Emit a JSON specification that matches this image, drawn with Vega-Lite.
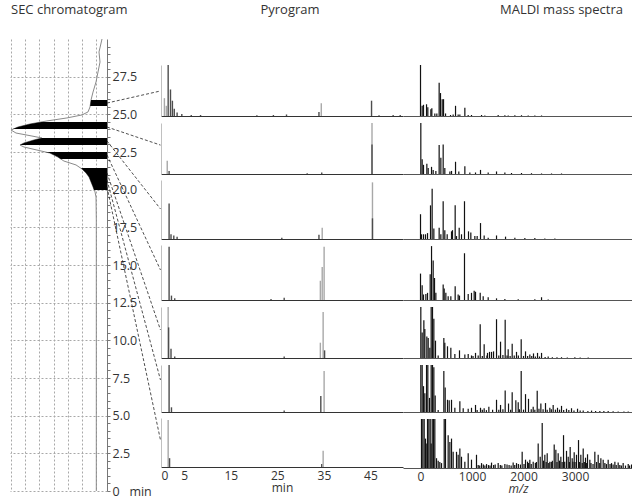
{
  "$schema": "https://vega.github.io/schema/vega-lite/v6.json",
  "padding": {"left": 8, "top": 4, "right": 0, "bottom": 0},
  "background": "white",
  "config": {
    "view": {"stroke": null},
    "font": "Open Sans",
    "axis": {"labelFont": "Open Sans", "titleFont": "Open Sans", "labelColor": "#333", "titleColor": "#333", "labelFontSize": 12, "titleFontSize": 12, "titleFontWeight": "normal"},
    "title": {"font": "Open Sans", "fontSize": 13, "fontWeight": "normal", "color": "#333"}
  },
  "datasets": {
    "sec": [
      {"t": 30.0, "v": -0.40}, {"t": 29.14, "v": -0.19}, {"t": 28.47, "v": -0.26}, {"t": 27.81, "v": -0.12}, {"t": 27.15, "v": 0.02}, {"t": 26.48, "v": 0.23}, {"t": 25.95, "v": 0.37}, {"t": 25.49, "v": 0.44}, {"t": 25.16, "v": 0.58}, {"t": 24.96, "v": 1.00}, {"t": 24.76, "v": 2.06}, {"t": 24.56, "v": 3.46}, {"t": 24.36, "v": 4.65}, {"t": 24.16, "v": 5.49}, {"t": 23.96, "v": 5.98}, {"t": 23.76, "v": 5.63}, {"t": 23.56, "v": 4.51}, {"t": 23.43, "v": 3.81}, {"t": 23.30, "v": 4.37}, {"t": 23.10, "v": 5.07}, {"t": 22.96, "v": 5.35}, {"t": 22.83, "v": 5.07}, {"t": 22.63, "v": 4.16}, {"t": 22.43, "v": 3.25}, {"t": 22.16, "v": 2.69}, {"t": 21.90, "v": 2.27}, {"t": 21.64, "v": 1.42}, {"t": 21.37, "v": 1.00}, {"t": 21.11, "v": 0.72}, {"t": 20.84, "v": 0.51}, {"t": 20.51, "v": 0.37}, {"t": 20.18, "v": 0.23}, {"t": 19.85, "v": 0.09}, {"t": 19.51, "v": 0.02}, {"t": 18.0, "v": 0.0}, {"t": 15.0, "v": 0.0}, {"t": 10.0, "v": 0.0}, {"t": 5.0, "v": 0.0}, {"t": 0.0, "v": 0.0}
    ],
    "fractions": [
      {"band": 1, "t": 25.95, "v": 0.37}, {"band": 1, "t": 25.75, "v": 0.40}, {"band": 1, "t": 25.55, "v": 0.43},
      {"band": 2, "t": 24.49, "v": 3.85}, {"band": 2, "t": 24.36, "v": 4.65}, {"band": 2, "t": 24.16, "v": 5.49}, {"band": 2, "t": 24.02, "v": 5.85},
      {"band": 3, "t": 23.43, "v": 3.81}, {"band": 3, "t": 23.30, "v": 4.37}, {"band": 3, "t": 23.10, "v": 5.07}, {"band": 3, "t": 22.96, "v": 5.35},
      {"band": 4, "t": 22.50, "v": 3.55}, {"band": 4, "t": 22.43, "v": 3.25}, {"band": 4, "t": 22.30, "v": 2.97}, {"band": 4, "t": 22.16, "v": 2.69}, {"band": 4, "t": 22.04, "v": 2.50},
      {"band": 5, "t": 21.43, "v": 1.07}, {"band": 5, "t": 21.37, "v": 1.00}, {"band": 5, "t": 21.11, "v": 0.72}, {"band": 5, "t": 20.84, "v": 0.51}, {"band": 5, "t": 20.51, "v": 0.37}, {"band": 5, "t": 20.18, "v": 0.23}, {"band": 5, "t": 19.98, "v": 0.16}
    ],
    "links": [
      {"fraction": 1, "t0": 25.75, "t1": 26.55},
      {"fraction": 2, "t0": 24.16, "t1": 22.96},
      {"fraction": 3, "t0": 23.23, "t1": 18.72},
      {"fraction": 4, "t0": 22.30, "t1": 14.67},
      {"fraction": 5, "t0": 21.11, "t1": 10.69},
      {"fraction": 6, "t0": 20.64, "t1": 7.37},
      {"fraction": 7, "t0": 20.18, "t1": 3.38}
    ],
    "pyro": [
      {"panel": 1, "t": 0.73, "h": 0.35, "trace": "l"}, {"panel": 1, "t": 1.14, "h": 0.2, "trace": "l"}, {"panel": 1, "t": 1.54, "h": 1.0, "trace": "d"}, {"panel": 1, "t": 2.04, "h": 0.52, "trace": "d"}, {"panel": 1, "t": 2.45, "h": 0.3, "trace": "d"}, {"panel": 1, "t": 2.85, "h": 0.14, "trace": "d"}, {"panel": 1, "t": 3.46, "h": 0.07, "trace": "d"}, {"panel": 1, "t": 4.47, "h": 0.04, "trace": "d"}, {"panel": 1, "t": 6.5, "h": 0.02, "trace": "d"}, {"panel": 1, "t": 8.5, "h": 0.02, "trace": "d"}, {"panel": 1, "t": 20.6, "h": 0.015, "trace": "d"}, {"panel": 1, "t": 24.15, "h": 0.02, "trace": "d"}, {"panel": 1, "t": 26.97, "h": 0.03, "trace": "d"}, {"panel": 1, "t": 33.94, "h": 0.08, "trace": "d"}, {"panel": 1, "t": 34.44, "h": 0.25, "trace": "l"}, {"panel": 1, "t": 45.24, "h": 0.30, "trace": "d"}, {"panel": 1, "t": 46.85, "h": 0.015, "trace": "d"}, {"panel": 1, "t": 49.88, "h": 0.02, "trace": "d"}, {"panel": 1, "t": 51.4, "h": 0.02, "trace": "d"},
      {"panel": 2, "t": 1.34, "h": 0.26, "trace": "l"}, {"panel": 2, "t": 1.74, "h": 0.06, "trace": "d"}, {"panel": 2, "t": 31.41, "h": 0.015, "trace": "d"}, {"panel": 2, "t": 34.54, "h": 0.03, "trace": "d"}, {"panel": 2, "t": 45.34, "h": 1.0, "trace": "l"}, {"panel": 2, "t": 45.34, "h": 0.58, "trace": "d"},
      {"panel": 3, "t": 1.74, "h": 0.6, "trace": "d"}, {"panel": 3, "t": 2.15, "h": 0.08, "trace": "d"}, {"panel": 3, "t": 2.75, "h": 0.06, "trace": "d"}, {"panel": 3, "t": 3.46, "h": 0.04, "trace": "d"}, {"panel": 3, "t": 25.96, "h": 0.02, "trace": "d"}, {"panel": 3, "t": 33.94, "h": 0.07, "trace": "d"}, {"panel": 3, "t": 34.64, "h": 0.19, "trace": "l"}, {"panel": 3, "t": 45.44, "h": 0.96, "trace": "l"}, {"panel": 3, "t": 45.44, "h": 0.35, "trace": "d"},
      {"panel": 4, "t": 1.74, "h": 0.97, "trace": "d"}, {"panel": 4, "t": 2.25, "h": 0.08, "trace": "d"}, {"panel": 4, "t": 2.95, "h": 0.03, "trace": "d"}, {"panel": 4, "t": 23.64, "h": 0.02, "trace": "d"}, {"panel": 4, "t": 26.47, "h": 0.04, "trace": "d"}, {"panel": 4, "t": 34.24, "h": 0.35, "trace": "l"}, {"panel": 4, "t": 34.64, "h": 0.6, "trace": "l"}, {"panel": 4, "t": 35.05, "h": 0.97, "trace": "l"},
      {"panel": 5, "t": 1.54, "h": 1.0, "trace": "l"}, {"panel": 5, "t": 1.64, "h": 0.6, "trace": "d"}, {"panel": 5, "t": 2.15, "h": 0.18, "trace": "d"}, {"panel": 5, "t": 2.95, "h": 0.03, "trace": "d"}, {"panel": 5, "t": 26.47, "h": 0.03, "trace": "d"}, {"panel": 5, "t": 34.24, "h": 0.3, "trace": "l"}, {"panel": 5, "t": 34.84, "h": 0.9, "trace": "l"}, {"panel": 5, "t": 35.15, "h": 0.15, "trace": "d"},
      {"panel": 6, "t": 1.74, "h": 1.0, "trace": "d"}, {"panel": 6, "t": 2.25, "h": 0.1, "trace": "d"}, {"panel": 6, "t": 26.47, "h": 0.03, "trace": "d"}, {"panel": 6, "t": 34.34, "h": 0.34, "trace": "d"}, {"panel": 6, "t": 35.05, "h": 0.87, "trace": "l"},
      {"panel": 7, "t": 1.54, "h": 0.96, "trace": "l"}, {"panel": 7, "t": 1.84, "h": 0.18, "trace": "d"}, {"panel": 7, "t": 34.54, "h": 0.06, "trace": "d"}, {"panel": 7, "t": 34.84, "h": 0.33, "trace": "l"}
    ],
    "maldi": [
      {"panel":1,"mz":0,"i":1.0},{"panel":1,"mz":32,"i":0.2},{"panel":1,"mz":58,"i":0.22},{"panel":1,"mz":117,"i":0.23},{"panel":1,"mz":142,"i":0.17},{"panel":1,"mz":201,"i":0.13},{"panel":1,"mz":220,"i":0.15},{"panel":1,"mz":278,"i":0.05},{"panel":1,"mz":317,"i":0.05},{"panel":1,"mz":362,"i":0.65},{"panel":1,"mz":388,"i":0.45},{"panel":1,"mz":421,"i":0.33},{"panel":1,"mz":447,"i":0.33},{"panel":1,"mz":486,"i":0.05},{"panel":1,"mz":583,"i":0.02},{"panel":1,"mz":634,"i":0.03},{"panel":1,"mz":680,"i":0.2},{"panel":1,"mz":731,"i":0.03},{"panel":1,"mz":764,"i":0.03},{"panel":1,"mz":861,"i":0.16},{"panel":1,"mz":926,"i":0.02},{"panel":1,"mz":990,"i":0.02},{"panel":1,"mz":1185,"i":0.02},{"panel":1,"mz":1249,"i":0.01},{"panel":1,"mz":1508,"i":0.02},{"panel":1,"mz":1638,"i":0.015},{"panel":1,"mz":1703,"i":0.01},{"panel":1,"mz":1832,"i":0.015},{"panel":1,"mz":1961,"i":0.015},{"panel":1,"mz":2091,"i":0.01},{"panel":1,"mz":2220,"i":0.01},{"panel":1,"mz":2350,"i":0.01},
      {"panel":2,"mz":6,"i":1.0},{"panel":2,"mz":32,"i":0.29},{"panel":2,"mz":58,"i":0.18},{"panel":2,"mz":123,"i":0.2},{"panel":2,"mz":149,"i":0.12},{"panel":2,"mz":214,"i":0.14},{"panel":2,"mz":246,"i":0.08},{"panel":2,"mz":298,"i":0.06},{"panel":2,"mz":362,"i":0.57},{"panel":2,"mz":395,"i":0.32},{"panel":2,"mz":440,"i":0.58},{"panel":2,"mz":472,"i":0.12},{"panel":2,"mz":570,"i":0.05},{"panel":2,"mz":602,"i":0.06},{"panel":2,"mz":680,"i":0.24},{"panel":2,"mz":744,"i":0.05},{"panel":2,"mz":861,"i":0.15},{"panel":2,"mz":958,"i":0.03},{"panel":2,"mz":1068,"i":0.03},{"panel":2,"mz":1165,"i":0.08},{"panel":2,"mz":1314,"i":0.03},{"panel":2,"mz":1476,"i":0.05},{"panel":2,"mz":1638,"i":0.03},{"panel":2,"mz":1767,"i":0.02},{"panel":2,"mz":1961,"i":0.02},{"panel":2,"mz":2155,"i":0.015},{"panel":2,"mz":2350,"i":0.01},{"panel":2,"mz":2544,"i":0.01},{"panel":2,"mz":2738,"i":0.01},
      {"panel":3,"mz":0,"i":0.42},{"panel":3,"mz":19,"i":0.08},{"panel":3,"mz":58,"i":0.08},{"panel":3,"mz":97,"i":0.08},{"panel":3,"mz":136,"i":0.1},{"panel":3,"mz":194,"i":0.57},{"panel":3,"mz":226,"i":0.85},{"panel":3,"mz":259,"i":0.18},{"panel":3,"mz":362,"i":0.19},{"panel":3,"mz":395,"i":0.08},{"panel":3,"mz":440,"i":0.64},{"panel":3,"mz":472,"i":0.15},{"panel":3,"mz":518,"i":0.08},{"panel":3,"mz":602,"i":0.13},{"panel":3,"mz":621,"i":0.15},{"panel":3,"mz":673,"i":0.57},{"panel":3,"mz":699,"i":0.05},{"panel":3,"mz":751,"i":0.19},{"panel":3,"mz":796,"i":0.08},{"panel":3,"mz":854,"i":0.64},{"panel":3,"mz":932,"i":0.13},{"panel":3,"mz":977,"i":0.11},{"panel":3,"mz":1055,"i":0.05},{"panel":3,"mz":1100,"i":0.05},{"panel":3,"mz":1165,"i":0.27},{"panel":3,"mz":1236,"i":0.06},{"panel":3,"mz":1314,"i":0.02},{"panel":3,"mz":1476,"i":0.06},{"panel":3,"mz":1651,"i":0.04},{"panel":3,"mz":1832,"i":0.02},{"panel":3,"mz":2026,"i":0.015},{"panel":3,"mz":2220,"i":0.015},{"panel":3,"mz":2414,"i":0.01},{"panel":3,"mz":2609,"i":0.01},
      {"panel":4,"mz":0,"i":0.48},{"panel":4,"mz":32,"i":0.27},{"panel":4,"mz":58,"i":0.1},{"panel":4,"mz":104,"i":0.11},{"panel":4,"mz":136,"i":0.13},{"panel":4,"mz":188,"i":0.47},{"panel":4,"mz":214,"i":0.98},{"panel":4,"mz":246,"i":0.72},{"panel":4,"mz":272,"i":0.4},{"panel":4,"mz":298,"i":0.13},{"panel":4,"mz":440,"i":0.28},{"panel":4,"mz":460,"i":0.21},{"panel":4,"mz":492,"i":0.13},{"panel":4,"mz":537,"i":0.07},{"panel":4,"mz":589,"i":0.07},{"panel":4,"mz":673,"i":0.25},{"panel":4,"mz":731,"i":0.1},{"panel":4,"mz":757,"i":0.08},{"panel":4,"mz":854,"i":0.85},{"panel":4,"mz":926,"i":0.11},{"panel":4,"mz":990,"i":0.13},{"panel":4,"mz":1042,"i":0.17},{"panel":4,"mz":1068,"i":0.15},{"panel":4,"mz":1159,"i":0.13},{"panel":4,"mz":1217,"i":0.07},{"panel":4,"mz":1314,"i":0.05},{"panel":4,"mz":1476,"i":0.03},{"panel":4,"mz":1638,"i":0.02},{"panel":4,"mz":1897,"i":0.015},{"panel":4,"mz":2220,"i":0.015},{"panel":4,"mz":2350,"i":0.05},{"panel":4,"mz":2479,"i":0.01},
      {"panel":5,"mz":6,"i":1.0},{"panel":5,"mz":32,"i":0.5},{"panel":5,"mz":65,"i":0.74},{"panel":5,"mz":84,"i":0.57},{"panel":5,"mz":123,"i":0.42},{"panel":5,"mz":149,"i":0.39},{"panel":5,"mz":181,"i":0.2},{"panel":5,"mz":207,"i":1.0},{"panel":5,"mz":233,"i":1.0},{"panel":5,"mz":259,"i":0.77},{"panel":5,"mz":291,"i":0.34},{"panel":5,"mz":343,"i":0.05},{"panel":5,"mz":453,"i":0.39},{"panel":5,"mz":472,"i":0.3},{"panel":5,"mz":524,"i":0.23},{"panel":5,"mz":589,"i":0.2},{"panel":5,"mz":667,"i":0.08},{"panel":5,"mz":757,"i":0.15},{"panel":5,"mz":861,"i":0.07},{"panel":5,"mz":926,"i":0.08},{"panel":5,"mz":990,"i":0.05},{"panel":5,"mz":1020,"i":0.04},{"panel":5,"mz":1068,"i":0.1},{"panel":5,"mz":1120,"i":0.05},{"panel":5,"mz":1159,"i":0.66},{"panel":5,"mz":1200,"i":0.04},{"panel":5,"mz":1236,"i":0.27},{"panel":5,"mz":1290,"i":0.05},{"panel":5,"mz":1301,"i":0.1},{"panel":5,"mz":1340,"i":0.12},{"panel":5,"mz":1379,"i":0.12},{"panel":5,"mz":1418,"i":0.13},{"panel":5,"mz":1476,"i":0.76},{"panel":5,"mz":1520,"i":0.05},{"panel":5,"mz":1554,"i":0.32},{"panel":5,"mz":1600,"i":0.06},{"panel":5,"mz":1644,"i":0.75},{"panel":5,"mz":1680,"i":0.05},{"panel":5,"mz":1702,"i":0.17},{"panel":5,"mz":1740,"i":0.04},{"panel":5,"mz":1780,"i":0.28},{"panel":5,"mz":1820,"i":0.05},{"panel":5,"mz":1864,"i":0.12},{"panel":5,"mz":1900,"i":0.05},{"panel":5,"mz":1955,"i":0.37},{"panel":5,"mz":2000,"i":0.04},{"panel":5,"mz":2039,"i":0.13},{"panel":5,"mz":2080,"i":0.04},{"panel":5,"mz":2123,"i":0.07},{"panel":5,"mz":2160,"i":0.04},{"panel":5,"mz":2194,"i":0.09},{"panel":5,"mz":2230,"i":0.03},{"panel":5,"mz":2272,"i":0.1},{"panel":5,"mz":2310,"i":0.03},{"panel":5,"mz":2350,"i":0.1},{"panel":5,"mz":2420,"i":0.02},{"panel":5,"mz":2479,"i":0.03},{"panel":5,"mz":2560,"i":0.015},{"panel":5,"mz":2650,"i":0.015},{"panel":5,"mz":2738,"i":0.015},{"panel":5,"mz":2850,"i":0.01},{"panel":5,"mz":2997,"i":0.015},{"panel":5,"mz":3100,"i":0.01},{"panel":5,"mz":3256,"i":0.01},
      {"panel":6,"mz":6,"i":1.0},{"panel":6,"mz":32,"i":1.0},{"panel":6,"mz":58,"i":0.55},{"panel":6,"mz":84,"i":0.4},{"panel":6,"mz":117,"i":1.0},{"panel":6,"mz":142,"i":1.0},{"panel":6,"mz":175,"i":0.3},{"panel":6,"mz":207,"i":1.0},{"panel":6,"mz":233,"i":1.0},{"panel":6,"mz":259,"i":0.95},{"panel":6,"mz":285,"i":0.35},{"panel":6,"mz":343,"i":0.04},{"panel":6,"mz":453,"i":0.87},{"panel":6,"mz":479,"i":0.52},{"panel":6,"mz":524,"i":0.26},{"panel":6,"mz":557,"i":0.25},{"panel":6,"mz":602,"i":0.26},{"panel":6,"mz":667,"i":0.09},{"panel":6,"mz":764,"i":0.23},{"panel":6,"mz":829,"i":0.08},{"panel":6,"mz":926,"i":0.07},{"panel":6,"mz":990,"i":0.09},{"panel":6,"mz":1068,"i":0.15},{"panel":6,"mz":1100,"i":0.04},{"panel":6,"mz":1165,"i":0.09},{"panel":6,"mz":1200,"i":0.05},{"panel":6,"mz":1236,"i":0.08},{"panel":6,"mz":1280,"i":0.04},{"panel":6,"mz":1327,"i":0.11},{"panel":6,"mz":1400,"i":0.05},{"panel":6,"mz":1476,"i":0.26},{"panel":6,"mz":1520,"i":0.05},{"panel":6,"mz":1554,"i":0.15},{"panel":6,"mz":1600,"i":0.06},{"panel":6,"mz":1644,"i":0.46},{"panel":6,"mz":1709,"i":0.18},{"panel":6,"mz":1750,"i":0.05},{"panel":6,"mz":1780,"i":0.42},{"panel":6,"mz":1851,"i":0.25},{"panel":6,"mz":1897,"i":0.21},{"panel":6,"mz":1920,"i":0.06},{"panel":6,"mz":1955,"i":0.87},{"panel":6,"mz":2000,"i":0.05},{"panel":6,"mz":2039,"i":0.38},{"panel":6,"mz":2097,"i":0.28},{"panel":6,"mz":2150,"i":0.06},{"panel":6,"mz":2188,"i":0.11},{"panel":6,"mz":2220,"i":0.05},{"panel":6,"mz":2266,"i":0.45},{"panel":6,"mz":2300,"i":0.07},{"panel":6,"mz":2337,"i":0.18},{"panel":6,"mz":2380,"i":0.06},{"panel":6,"mz":2427,"i":0.19},{"panel":6,"mz":2460,"i":0.05},{"panel":6,"mz":2511,"i":0.09},{"panel":6,"mz":2540,"i":0.06},{"panel":6,"mz":2576,"i":0.15},{"panel":6,"mz":2620,"i":0.05},{"panel":6,"mz":2660,"i":0.09},{"panel":6,"mz":2700,"i":0.05},{"panel":6,"mz":2738,"i":0.13},{"panel":6,"mz":2780,"i":0.04},{"panel":6,"mz":2835,"i":0.07},{"panel":6,"mz":2880,"i":0.04},{"panel":6,"mz":2932,"i":0.08},{"panel":6,"mz":2980,"i":0.03},{"panel":6,"mz":3049,"i":0.07},{"panel":6,"mz":3100,"i":0.03},{"panel":6,"mz":3159,"i":0.03},{"panel":6,"mz":3250,"i":0.02},{"panel":6,"mz":3321,"i":0.03},{"panel":6,"mz":3400,"i":0.02},{"panel":6,"mz":3482,"i":0.02},{"panel":6,"mz":3560,"i":0.02},{"panel":6,"mz":3644,"i":0.02},{"panel":6,"mz":3740,"i":0.015},{"panel":6,"mz":3838,"i":0.01},{"panel":6,"mz":3950,"i":0.01},{"panel":6,"mz":4033,"i":0.01},
      {"panel":7,"mz":19,"i":1.0},{"panel":7,"mz":45,"i":1.0},{"panel":7,"mz":71,"i":1.0},{"panel":7,"mz":97,"i":0.6},{"panel":7,"mz":110,"i":0.5},{"panel":7,"mz":136,"i":1.0},{"panel":7,"mz":162,"i":1.0},{"panel":7,"mz":188,"i":1.0},{"panel":7,"mz":207,"i":0.5},{"panel":7,"mz":227,"i":1.0},{"panel":7,"mz":252,"i":1.0},{"panel":7,"mz":278,"i":1.0},{"panel":7,"mz":311,"i":0.2},{"panel":7,"mz":343,"i":0.15},{"panel":7,"mz":375,"i":0.12},{"panel":7,"mz":408,"i":0.1},{"panel":7,"mz":460,"i":1.0},{"panel":7,"mz":485,"i":1.0},{"panel":7,"mz":537,"i":0.67},{"panel":7,"mz":570,"i":0.53},{"panel":7,"mz":602,"i":0.6},{"panel":7,"mz":634,"i":0.33},{"panel":7,"mz":699,"i":0.33},{"panel":7,"mz":731,"i":0.27},{"panel":7,"mz":764,"i":0.4},{"panel":7,"mz":796,"i":0.23},{"panel":7,"mz":861,"i":0.13},{"panel":7,"mz":926,"i":0.3},{"panel":7,"mz":990,"i":0.17},{"panel":7,"mz":1087,"i":0.27},{"panel":7,"mz":1120,"i":0.06},{"panel":7,"mz":1150,"i":0.05},{"panel":7,"mz":1185,"i":0.1},{"panel":7,"mz":1220,"i":0.07},{"panel":7,"mz":1250,"i":0.05},{"panel":7,"mz":1282,"i":0.08},{"panel":7,"mz":1320,"i":0.06},{"panel":7,"mz":1350,"i":0.05},{"panel":7,"mz":1379,"i":0.11},{"panel":7,"mz":1420,"i":0.06},{"panel":7,"mz":1450,"i":0.07},{"panel":7,"mz":1508,"i":0.1},{"panel":7,"mz":1550,"i":0.06},{"panel":7,"mz":1580,"i":0.05},{"panel":7,"mz":1638,"i":0.08},{"panel":7,"mz":1680,"i":0.07},{"panel":7,"mz":1720,"i":0.06},{"panel":7,"mz":1760,"i":0.05},{"panel":7,"mz":1799,"i":0.11},{"panel":7,"mz":1830,"i":0.06},{"panel":7,"mz":1864,"i":0.1},{"panel":7,"mz":1900,"i":0.08},{"panel":7,"mz":1940,"i":0.07},{"panel":7,"mz":1974,"i":0.33},{"panel":7,"mz":2010,"i":0.08},{"panel":7,"mz":2039,"i":0.17},{"panel":7,"mz":2078,"i":0.13},{"panel":7,"mz":2100,"i":0.1},{"panel":7,"mz":2123,"i":0.17},{"panel":7,"mz":2150,"i":0.08},{"panel":7,"mz":2188,"i":0.13},{"panel":7,"mz":2230,"i":0.1},{"panel":7,"mz":2250,"i":0.12},{"panel":7,"mz":2285,"i":0.5},{"panel":7,"mz":2324,"i":0.23},{"panel":7,"mz":2363,"i":0.92},{"panel":7,"mz":2390,"i":0.15},{"panel":7,"mz":2414,"i":0.27},{"panel":7,"mz":2440,"i":0.12},{"panel":7,"mz":2460,"i":0.3},{"panel":7,"mz":2490,"i":0.1},{"panel":7,"mz":2511,"i":0.13},{"panel":7,"mz":2540,"i":0.12},{"panel":7,"mz":2560,"i":0.15},{"panel":7,"mz":2596,"i":0.48},{"panel":7,"mz":2628,"i":0.37},{"panel":7,"mz":2650,"i":0.12},{"panel":7,"mz":2673,"i":0.3},{"panel":7,"mz":2700,"i":0.15},{"panel":7,"mz":2725,"i":0.23},{"panel":7,"mz":2750,"i":0.12},{"panel":7,"mz":2777,"i":0.67},{"panel":7,"mz":2800,"i":0.13},{"panel":7,"mz":2835,"i":0.35},{"panel":7,"mz":2868,"i":0.23},{"panel":7,"mz":2890,"i":0.12},{"panel":7,"mz":2906,"i":0.43},{"panel":7,"mz":2945,"i":0.2},{"panel":7,"mz":2960,"i":0.13},{"panel":7,"mz":2984,"i":0.32},{"panel":7,"mz":3000,"i":0.12},{"panel":7,"mz":3029,"i":0.27},{"panel":7,"mz":3068,"i":0.57},{"panel":7,"mz":3090,"i":0.12},{"panel":7,"mz":3113,"i":0.27},{"panel":7,"mz":3140,"i":0.1},{"panel":7,"mz":3159,"i":0.4},{"panel":7,"mz":3180,"i":0.12},{"panel":7,"mz":3204,"i":0.21},{"panel":7,"mz":3220,"i":0.1},{"panel":7,"mz":3243,"i":0.28},{"panel":7,"mz":3288,"i":0.17},{"panel":7,"mz":3310,"i":0.1},{"panel":7,"mz":3350,"i":0.08},{"panel":7,"mz":3385,"i":0.33},{"panel":7,"mz":3420,"i":0.12},{"panel":7,"mz":3450,"i":0.27},{"panel":7,"mz":3480,"i":0.1},{"panel":7,"mz":3502,"i":0.2},{"panel":7,"mz":3547,"i":0.17},{"panel":7,"mz":3580,"i":0.1},{"panel":7,"mz":3610,"i":0.08},{"panel":7,"mz":3644,"i":0.17},{"panel":7,"mz":3680,"i":0.08},{"panel":7,"mz":3709,"i":0.1},{"panel":7,"mz":3740,"i":0.07},{"panel":7,"mz":3774,"i":0.13},{"panel":7,"mz":3800,"i":0.06},{"panel":7,"mz":3838,"i":0.11},{"panel":7,"mz":3870,"i":0.06},{"panel":7,"mz":3900,"i":0.05},{"panel":7,"mz":3935,"i":0.1},{"panel":7,"mz":3980,"i":0.05},{"panel":7,"mz":4033,"i":0.08},{"panel":7,"mz":4060,"i":0.05},{"panel":7,"mz":4098,"i":0.07}
    ]
  },
  "spacing": 0,
  "resolve": {"scale": {"x": "independent", "y": "independent", "color": "independent"}},
  "hconcat": [
    {
      "width": 97,
      "height": 452,
      "title": {"text": "SEC chromatogram", "anchor": "start", "offset": 20, "dx": 2},
      "resolve": {"axis": {"x": "independent", "y": "independent"}},
      "layer": [
        {
          "data": {"name": "sec"},
          "mark": {"type": "line", "color": "#8a8a8a", "strokeWidth": 1},
          "encoding": {
            "y": {"field": "t", "type": "quantitative", "scale": {"domain": [0, 30], "nice": false, "zero": false},
              "axis": {"orient": "right", "title": null,
                "values": [0, 2.5, 5, 7.5, 10, 12.5, 15, 17.5, 20, 22.5, 25, 27.5],
                "labelExpr": "datum.value === 0 ? '0\u00a0\u00a0\u00a0min' : format(datum.value, '.1f')",
                "labelOverlap": false, "labelBound": false, "labelPadding": 2, "labelFontSize": 12.5,
                "grid": true, "gridDash": [2, 2], "gridColor": "#a8a8a8", "gridWidth": 1,
                "tickSize": 3, "tickColor": "#777", "domainColor": "#777"}},
            "x": {"field": "v", "type": "quantitative", "scale": {"domain": [6.05, -0.75], "nice": false, "zero": false},
              "axis": {"orient": "bottom", "title": null, "values": [0, 1, 2, 3, 4, 5, 6], "labels": false, "ticks": false, "domain": false, "grid": true, "gridDash": [2, 2], "gridColor": "#a8a8a8", "gridWidth": 1}},
            "order": {"field": "t", "type": "quantitative"}
          }
        },
        {
          "data": {"name": "fractions"},
          "mark": {"type": "area", "orient": "horizontal", "color": "#000"},
          "encoding": {
            "y": {"field": "t", "type": "quantitative",
              "axis": {"orient": "right", "title": null, "labels": false, "grid": false, "domain": false, "tickSize": 3, "tickColor": "#777",
                "values": [0.5,1,1.5,2,3,3.5,4,4.5,5.5,6,6.5,7,8,8.5,9,9.5,10.5,11,11.5,12,13,13.5,14,14.5,15.5,16,16.5,17,18,18.5,19,19.5,20.5,21,21.5,22,23,23.5,24,24.5,25.5,26,26.5,27,28,28.5,29,29.5]}},
            "x": {"field": "v", "type": "quantitative", "axis": null},
            "x2": {"datum": -0.75},
            "detail": {"field": "band", "type": "nominal"}
          }
        },
        {
          "data": {"name": "links"},
          "mark": {"type": "rule", "strokeDash": [3, 2], "color": "#222", "strokeWidth": 0.8},
          "encoding": {
            "y": {"field": "t0", "type": "quantitative", "axis": null},
            "y2": {"field": "t1"},
            "x": {"datum": -0.75, "type": "quantitative", "axis": null},
            "x2": {"datum": -4.50}
          }
        }
      ]
    },
    {
      "spacing": 5,
      "resolve": {"scale": {"x": "independent", "y": "independent", "color": "independent"}},
      "vconcat": [
        {"width": 242, "height": 20, "title": {"text": "Pyrogram", "offset": 22, "dx": 8}, "data": {"values": [{}]}, "mark": {"type": "text", "text": ""}},
        {"width": 242, "height": 51, "data": {"name": "pyro"}, "transform": [{"filter": "datum.panel === 1"}], "mark": {"type": "rule", "strokeWidth": 1.4},
          "encoding": {"x": {"field": "t", "type": "quantitative", "scale": {"domain": [0, 52], "nice": false, "zero": false}, "axis": {"labels": false, "ticks": false, "title": null, "grid": false, "domainColor": "#333"}},
            "y": {"field": "h", "type": "quantitative", "scale": {"domain": [0, 1], "nice": false}, "axis": {"labels": false, "ticks": false, "title": null, "grid": false, "domainColor": "#c0c0c0"}},
            "y2": {"datum": 0},
            "color": {"field": "trace", "type": "nominal", "scale": {"domain": ["d", "l"], "range": ["#4d4d4d", "#a8a8a8"]}, "legend": null}}},
        {"width": 242, "height": 51, "data": {"name": "pyro"}, "transform": [{"filter": "datum.panel === 2"}], "mark": {"type": "rule", "strokeWidth": 1.4},
          "encoding": {"x": {"field": "t", "type": "quantitative", "scale": {"domain": [0, 52], "nice": false, "zero": false}, "axis": {"labels": false, "ticks": false, "title": null, "grid": false, "domainColor": "#333"}},
            "y": {"field": "h", "type": "quantitative", "scale": {"domain": [0, 1], "nice": false}, "axis": {"labels": false, "ticks": false, "title": null, "grid": false, "domainColor": "#c0c0c0"}},
            "y2": {"datum": 0},
            "color": {"field": "trace", "type": "nominal", "scale": {"domain": ["d", "l"], "range": ["#4d4d4d", "#a8a8a8"]}, "legend": null}}},
        {"width": 242, "height": 59, "data": {"name": "pyro"}, "transform": [{"filter": "datum.panel === 3"}], "mark": {"type": "rule", "strokeWidth": 1.4},
          "encoding": {"x": {"field": "t", "type": "quantitative", "scale": {"domain": [0, 52], "nice": false, "zero": false}, "axis": {"labels": false, "ticks": false, "title": null, "grid": false, "domainColor": "#333"}},
            "y": {"field": "h", "type": "quantitative", "scale": {"domain": [0, 1], "nice": false}, "axis": {"labels": false, "ticks": false, "title": null, "grid": false, "domainColor": "#c0c0c0"}},
            "y2": {"datum": 0},
            "color": {"field": "trace", "type": "nominal", "scale": {"domain": ["d", "l"], "range": ["#4d4d4d", "#a8a8a8"]}, "legend": null}}},
        {"width": 242, "height": 55, "data": {"name": "pyro"}, "transform": [{"filter": "datum.panel === 4"}], "mark": {"type": "rule", "strokeWidth": 1.4},
          "encoding": {"x": {"field": "t", "type": "quantitative", "scale": {"domain": [0, 52], "nice": false, "zero": false}, "axis": {"labels": false, "ticks": false, "title": null, "grid": false, "domainColor": "#333"}},
            "y": {"field": "h", "type": "quantitative", "scale": {"domain": [0, 1], "nice": false}, "axis": {"labels": false, "ticks": false, "title": null, "grid": false, "domainColor": "#c0c0c0"}},
            "y2": {"datum": 0},
            "color": {"field": "trace", "type": "nominal", "scale": {"domain": ["d", "l"], "range": ["#4d4d4d", "#a8a8a8"]}, "legend": null}}},
        {"width": 242, "height": 51, "data": {"name": "pyro"}, "transform": [{"filter": "datum.panel === 5"}], "mark": {"type": "rule", "strokeWidth": 1.4},
          "encoding": {"x": {"field": "t", "type": "quantitative", "scale": {"domain": [0, 52], "nice": false, "zero": false}, "axis": {"labels": false, "ticks": false, "title": null, "grid": false, "domainColor": "#333"}},
            "y": {"field": "h", "type": "quantitative", "scale": {"domain": [0, 1], "nice": false}, "axis": {"labels": false, "ticks": false, "title": null, "grid": false, "domainColor": "#c0c0c0"}},
            "y2": {"datum": 0},
            "color": {"field": "trace", "type": "nominal", "scale": {"domain": ["d", "l"], "range": ["#4d4d4d", "#a8a8a8"]}, "legend": null}}},
        {"width": 242, "height": 47, "data": {"name": "pyro"}, "transform": [{"filter": "datum.panel === 6"}], "mark": {"type": "rule", "strokeWidth": 1.4},
          "encoding": {"x": {"field": "t", "type": "quantitative", "scale": {"domain": [0, 52], "nice": false, "zero": false}, "axis": {"labels": false, "ticks": false, "title": null, "grid": false, "domainColor": "#333"}},
            "y": {"field": "h", "type": "quantitative", "scale": {"domain": [0, 1], "nice": false}, "axis": {"labels": false, "ticks": false, "title": null, "grid": false, "domainColor": "#c0c0c0"}},
            "y2": {"datum": 0},
            "color": {"field": "trace", "type": "nominal", "scale": {"domain": ["d", "l"], "range": ["#4d4d4d", "#a8a8a8"]}, "legend": null}}},
        {"width": 242, "height": 49, "data": {"name": "pyro"}, "transform": [{"filter": "datum.panel === 7"}], "mark": {"type": "rule", "strokeWidth": 1.4},
          "encoding": {"x": {"field": "t", "type": "quantitative", "scale": {"domain": [0, 52], "nice": false, "zero": false}, "axis": {"values": [0, 5, 15, 25, 35, 45], "ticks": false, "title": "min", "grid": false, "domainColor": "#333", "labelPadding": 3, "titlePadding": 1}},
            "y": {"field": "h", "type": "quantitative", "scale": {"domain": [0, 1], "nice": false}, "axis": {"labels": false, "ticks": false, "title": null, "grid": false, "domainColor": "#c0c0c0"}},
            "y2": {"datum": 0},
            "color": {"field": "trace", "type": "nominal", "scale": {"domain": ["d", "l"], "range": ["#4d4d4d", "#a8a8a8"]}, "legend": null}}}
      ]
    },
    {
      "spacing": 5,
      "resolve": {"scale": {"x": "independent", "y": "independent"}},
      "vconcat": [
        {"width": 230, "height": 20, "title": {"text": "MALDI mass spectra", "anchor": "end", "offset": 22, "dx": -10}, "data": {"values": [{}]}, "mark": {"type": "text", "text": ""}},
        {"width": 230, "height": 51, "data": {"name": "maldi"}, "transform": [{"filter": "datum.panel === 1"}], "mark": {"type": "rule", "strokeWidth": 1.2, "color": "#111"},
          "encoding": {"x": {"field": "mz", "type": "quantitative", "scale": {"domain": [-340, 4126], "nice": false, "zero": false}, "axis": {"labels": false, "ticks": false, "title": null, "grid": false, "domainColor": "#555"}},
            "y": {"field": "i", "type": "quantitative", "scale": {"domain": [0, 1], "nice": false}, "axis": {"labels": false, "ticks": false, "title": null, "grid": false, "domainColor": "transparent"}},
            "y2": {"datum": 0}}},
        {"width": 230, "height": 51, "data": {"name": "maldi"}, "transform": [{"filter": "datum.panel === 2"}], "mark": {"type": "rule", "strokeWidth": 1.2, "color": "#111"},
          "encoding": {"x": {"field": "mz", "type": "quantitative", "scale": {"domain": [-340, 4126], "nice": false, "zero": false}, "axis": {"labels": false, "ticks": false, "title": null, "grid": false, "domainColor": "#555"}},
            "y": {"field": "i", "type": "quantitative", "scale": {"domain": [0, 1], "nice": false}, "axis": {"labels": false, "ticks": false, "title": null, "grid": false, "domainColor": "transparent"}},
            "y2": {"datum": 0}}},
        {"width": 230, "height": 59, "data": {"name": "maldi"}, "transform": [{"filter": "datum.panel === 3"}], "mark": {"type": "rule", "strokeWidth": 1.2, "color": "#111"},
          "encoding": {"x": {"field": "mz", "type": "quantitative", "scale": {"domain": [-340, 4126], "nice": false, "zero": false}, "axis": {"labels": false, "ticks": false, "title": null, "grid": false, "domainColor": "#555"}},
            "y": {"field": "i", "type": "quantitative", "scale": {"domain": [0, 1], "nice": false}, "axis": {"labels": false, "ticks": false, "title": null, "grid": false, "domainColor": "transparent"}},
            "y2": {"datum": 0}}},
        {"width": 230, "height": 55, "data": {"name": "maldi"}, "transform": [{"filter": "datum.panel === 4"}], "mark": {"type": "rule", "strokeWidth": 1.2, "color": "#111"},
          "encoding": {"x": {"field": "mz", "type": "quantitative", "scale": {"domain": [-340, 4126], "nice": false, "zero": false}, "axis": {"labels": false, "ticks": false, "title": null, "grid": false, "domainColor": "#555"}},
            "y": {"field": "i", "type": "quantitative", "scale": {"domain": [0, 1], "nice": false}, "axis": {"labels": false, "ticks": false, "title": null, "grid": false, "domainColor": "transparent"}},
            "y2": {"datum": 0}}},
        {"width": 230, "height": 51, "data": {"name": "maldi"}, "transform": [{"filter": "datum.panel === 5"}], "mark": {"type": "rule", "strokeWidth": 1.2, "color": "#111"},
          "encoding": {"x": {"field": "mz", "type": "quantitative", "scale": {"domain": [-340, 4126], "nice": false, "zero": false}, "axis": {"labels": false, "ticks": false, "title": null, "grid": false, "domainColor": "#555"}},
            "y": {"field": "i", "type": "quantitative", "scale": {"domain": [0, 1], "nice": false}, "axis": {"labels": false, "ticks": false, "title": null, "grid": false, "domainColor": "transparent"}},
            "y2": {"datum": 0}}},
        {"width": 230, "height": 47, "data": {"name": "maldi"}, "transform": [{"filter": "datum.panel === 6"}], "mark": {"type": "rule", "strokeWidth": 1.2, "color": "#111"},
          "encoding": {"x": {"field": "mz", "type": "quantitative", "scale": {"domain": [-340, 4126], "nice": false, "zero": false}, "axis": {"labels": false, "ticks": false, "title": null, "grid": false, "domainColor": "#555"}},
            "y": {"field": "i", "type": "quantitative", "scale": {"domain": [0, 1], "nice": false}, "axis": {"labels": false, "ticks": false, "title": null, "grid": false, "domainColor": "transparent"}},
            "y2": {"datum": 0}}},
        {"width": 230, "height": 49, "data": {"name": "maldi"}, "transform": [{"filter": "datum.panel === 7"}], "mark": {"type": "rule", "strokeWidth": 1.2, "color": "#111"},
          "encoding": {"x": {"field": "mz", "type": "quantitative", "scale": {"domain": [-340, 4126], "nice": false, "zero": false}, "axis": {"values": [0, 1000, 2000, 3000], "format": "d", "ticks": false, "title": "m/z", "titleFontStyle": "italic", "grid": false, "domainColor": "#555", "labelPadding": 3, "titlePadding": 1}},
            "y": {"field": "i", "type": "quantitative", "scale": {"domain": [0, 1], "nice": false}, "axis": {"labels": false, "ticks": false, "title": null, "grid": false, "domainColor": "transparent"}},
            "y2": {"datum": 0}}}
      ]
    }
  ]
}
